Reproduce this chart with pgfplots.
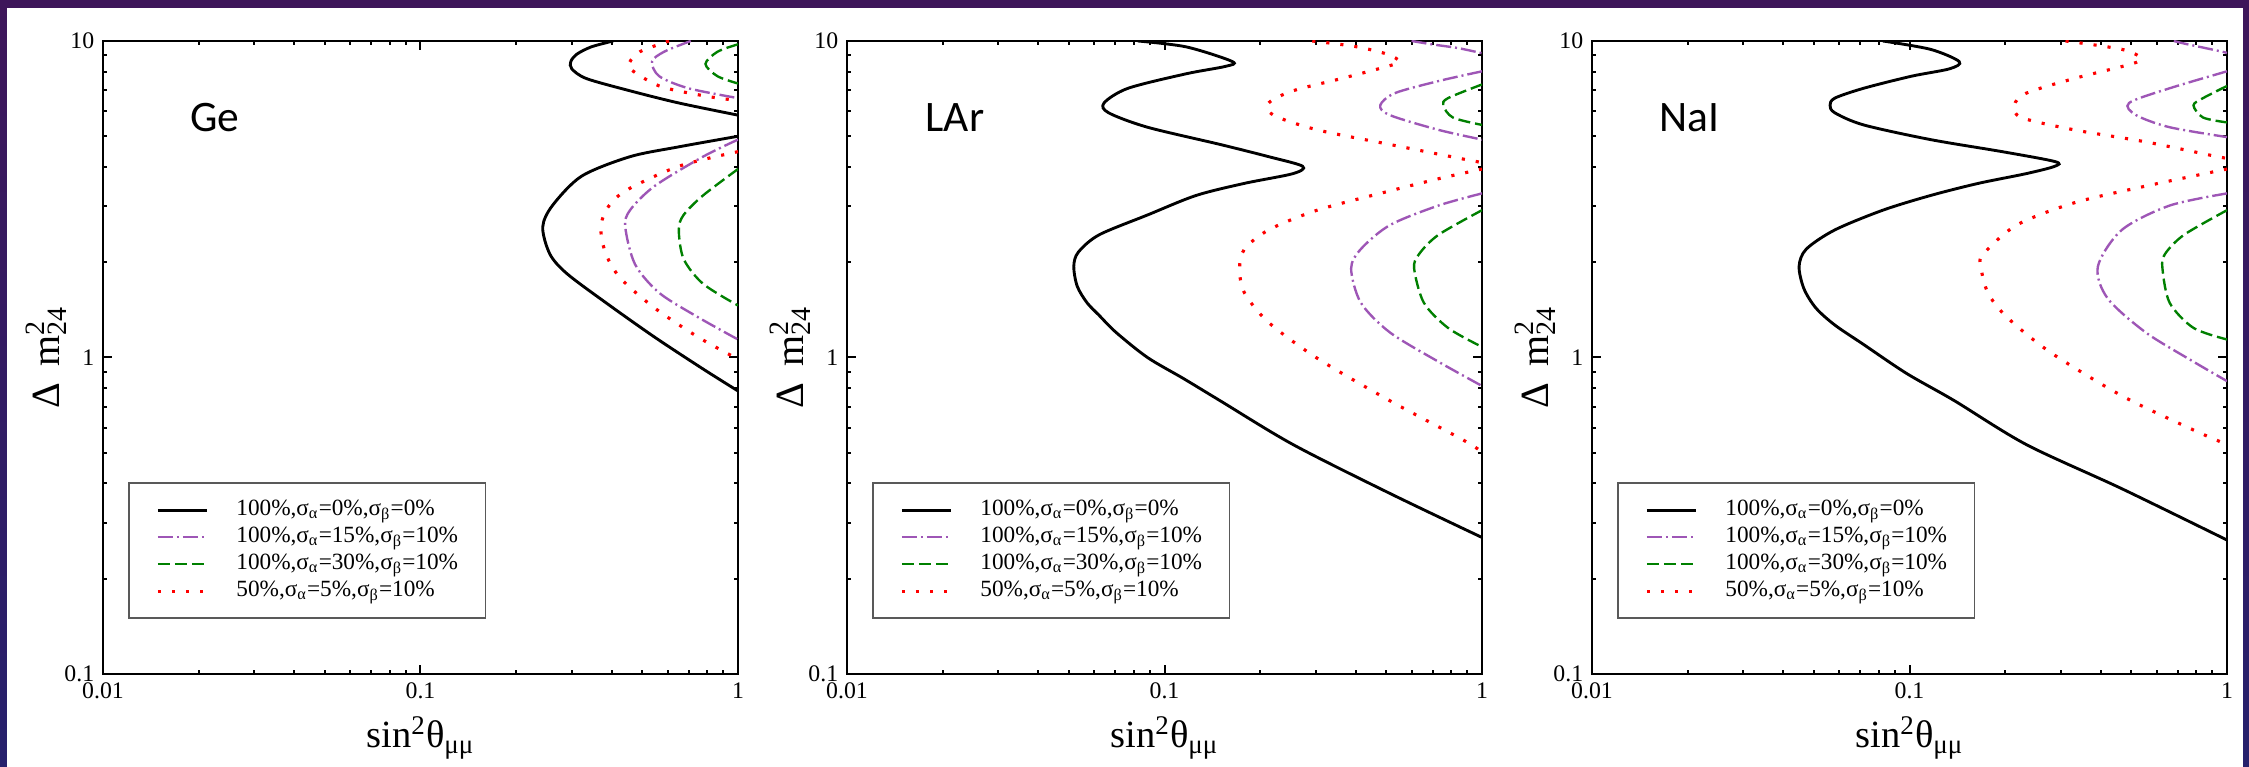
\documentclass[border=0pt]{standalone}
\usepackage{pgfplots}
\pgfplotsset{compat=1.18}
\usepackage{fontspec}
\setmainfont{Liberation Serif}
\newfontfamily\carlito{Carlito}
\definecolor{pur}{RGB}{158,86,182}
\definecolor{grn}{RGB}{0,128,0}
\definecolor{bgtop}{RGB}{62,22,90}
\definecolor{bgbot}{RGB}{38,32,108}

\tikzset{
  cblk/.style={black, line width=1.15pt, smooth, tension=0.5},
  cpur/.style={pur, line width=0.95pt, dash pattern=on 6pt off 1.6pt on 0.8pt off 1.6pt, smooth, tension=0.5},
  cgrn/.style={grn, line width=0.95pt, dash pattern=on 4.8pt off 2pt, smooth, tension=0.5},
  cred/.style={red, line width=1.25pt, dash pattern=on 1.25pt off 4.4pt, smooth, tension=0.5},
}
\pgfplotsset{
  every axis/.append style={
    xmin=0.01, xmax=1, ymin=0.1, ymax=10,
    scale only axis, width=254pt, height=253.2pt,
    axis line style={line width=1.1pt},
    xtick={0.01,0.1,1}, xticklabels={0.01,0.1,1},
    ytick={0.1,1,10}, yticklabels={0.1,1,10},
    minor xtick={0.02,0.03,0.04,0.05,0.06,0.07,0.08,0.09,0.2,0.3,0.4,0.5,0.6,0.7,0.8,0.9},
    minor ytick={0.2,0.3,0.4,0.5,0.6,0.7,0.8,0.9,2,3,4,5,6,7,8,9},
    tick style={black, line width=0.8pt},
    major tick length=3.6pt, minor tick length=1.8pt,
    tick align=inside,
    ticklabel style={font=\fontsize{9.5}{10}\selectfont},
    xlabel style={font=\fontsize{15.4}{16}\selectfont, at={(axis description cs:0.5,0)}, anchor=base, yshift=-29.6pt},
    ylabel style={font=\fontsize{16}{17}\selectfont, at={(axis description cs:-0.0898,0.5)}, anchor=center},
    legend style={at={(axis description cs:0.0394,0.0869)}, anchor=south west,
      draw=black!65, line width=0.6pt, fill=white,
      inner xsep=11pt, inner ysep=5.4pt, row sep=0pt, column sep=11.2pt,
      font=\fontsize{9.3}{10.8}\selectfont,
      nodes={inner xsep=0pt, inner ysep=0.9pt, text height=6.8pt, text depth=2.2pt},
      cells={anchor=west}},
  },
  legend image code/.code={\draw[#1] (0pt,0pt) -- (19.6pt,0pt);},
}

\newcommand\legA{100\%,σ\textsubscript{α}=0\%,σ\textsubscript{β}=0\%}
\newcommand\legB{100\%,σ\textsubscript{α}=15\%,σ\textsubscript{β}=10\%}
\newcommand\legC{100\%,σ\textsubscript{α}=30\%,σ\textsubscript{β}=10\%}
\newcommand\legD{50\%,σ\textsubscript{α}=5\%,σ\textsubscript{β}=10\%}
\newcommand\xlab{sin\textsuperscript{2}θ\textsubscript{μμ}}
\newcommand\ylab{Δ\hspace{0.4em}m\rlap{\textsuperscript{2}}\textsubscript{24}}

\begin{document}
\begin{tikzpicture}
\useasboundingbox (0pt,0pt) rectangle (899.6pt,306.8pt);
\shade[top color=bgtop, bottom color=bgbot] (0pt,0pt) rectangle (899.6pt,306.8pt);
\fill[white] (2.8pt,0pt) rectangle (897.2pt,303.4pt);

% ---------------- Ge ----------------
\begin{loglogaxis}[anchor=north west, at={(41.2pt,290.4pt)}, xlabel={\xlab}, ylabel={\ylab}]
\addplot[cblk] coordinates {(0.4045,10) (0.345,9.58) (0.3105,9.08) (0.2975,8.61) (0.2995,8.17) (0.333,7.61) (0.457,6.96) (0.651,6.37) (1,5.83)};
\addlegendentry{\legA}
\addplot[cpur] coordinates {(0.710,10) (0.5855,9.25) (0.536,8.61) (0.565,7.74) (0.698,7.09) (1,6.60)};
\addlegendentry{\legB}
\addplot[cgrn] coordinates {(1,9.76) (0.862,9.25) (0.790,8.46) (0.862,7.74) (1,7.34)};
\addlegendentry{\legC}
\addplot[cred] coordinates {(0.606,10) (0.491,9.25) (0.457,8.61) (0.457,8.17) (0.565,7.21) (0.776,6.72) (1,6.48)};
\addlegendentry{\legD}
\addplot[cblk, forget plot] coordinates {(1,5.00) (0.651,4.63) (0.457,4.31) (0.3216,3.74) (0.2603,3.02) (0.2426,2.58) (0.2557,2.12) (0.2893,1.84) (0.3836,1.49) (0.546,1.16) (0.776,0.92) (1,0.784)};
\addplot[cpur, forget plot] coordinates {(1,4.88) (0.776,4.31) (0.546,3.48) (0.457,2.92) (0.4416,2.58) (0.474,1.97) (0.565,1.60) (0.749,1.34) (1,1.14)};
\addplot[cgrn, forget plot] coordinates {(1,3.94) (0.776,3.25) (0.674,2.82) (0.651,2.53) (0.674,2.05) (0.776,1.71) (1,1.46)};
\addplot[cred, forget plot] coordinates {(1,4.47) (0.651,4.02) (0.4416,3.36) (0.384,2.92) (0.370,2.53) (0.384,2.12) (0.4266,1.78) (0.546,1.434) (0.749,1.16) (1,0.988)};
\end{loglogaxis}

% ---------------- LAr ----------------
\begin{loglogaxis}[anchor=north west, at={(338.8pt,290.4pt)}, xlabel={\xlab}, ylabel={\ylab}]
\addplot[cblk] coordinates {(0.0824,10) (0.1171,9.58) (0.1636,8.61) (0.1552,8.31) (0.1171,7.88) (0.0768,7.09) (0.0645,6.37) (0.0667,5.93) (0.0884,5.34) (0.1498,4.71) (0.2129,4.31) (0.2723,4.02) (0.2538,3.81) (0.1786,3.55) (0.1257,3.25) (0.0884,2.82) (0.0622,2.44) (0.0535,2.15) (0.0518,1.94) (0.0531,1.68) (0.0570,1.49) (0.0622,1.36) (0.0704,1.20) (0.0884,1.00) (0.115,0.857) (0.1498,0.730) (0.2538,0.531) (0.5128,0.372) (1,0.270)};
\addlegendentry{\legA}
\addplot[cpur] coordinates {(0.60,10) (0.70,9.75) (0.8389,9.5) (1,9.15)};
\addlegendentry{\legB}
\addplot[cgrn] coordinates {(1,7.29) (0.7819,6.60) (0.7549,6.26) (0.8099,5.73) (1,5.43)};
\addlegendentry{\legC}
\addplot[cred] coordinates {(0.292,10) (0.40,9.6) (0.50,9.1) (0.5503,8.61) (0.50,8.3) (0.3608,7.61) (0.2538,6.96) (0.2129,6.37) (0.2205,5.83) (0.3026,5.24) (0.5128,4.71) (0.8688,4.24) (1,4.13)};
\addlegendentry{\legD}
\addplot[cpur, forget plot] coordinates {(1,8.02) (0.7288,7.47) (0.531,6.84) (0.478,6.26) (0.5128,5.83) (0.7288,5.24) (1,4.88)};
\addplot[cpur, forget plot] coordinates {(1,3.30) (0.7288,3.02) (0.5128,2.62) (0.4153,2.20) (0.3871,1.91) (0.4153,1.49) (0.5128,1.20) (0.7288,0.970) (1,0.813)};
\addplot[cgrn, forget plot] coordinates {(1,2.92) (0.7288,2.44) (0.6332,2.12) (0.6114,1.91) (0.6559,1.49) (0.7819,1.24) (1,1.08)};
\addplot[cred, forget plot] coordinates {(1,3.94) (0.7288,3.67) (0.5128,3.36) (0.3026,2.92) (0.2129,2.53) (0.1786,2.20) (0.1724,1.91) (0.1786,1.60) (0.2129,1.29) (0.3026,0.995) (0.5128,0.730) (0.8688,0.550) (1,0.503)};
\end{loglogaxis}

% ---------------- NaI ----------------
\begin{loglogaxis}[anchor=north west, at={(636.8pt,290.4pt)}, xlabel={\xlab}, ylabel={\ylab}]
\addplot[cblk] coordinates {(0.0824,10) (0.1165,9.41) (0.1434,8.61) (0.1338,8.17) (0.1014,7.74) (0.0717,7.09) (0.0582,6.60) (0.0562,6.26) (0.0582,5.93) (0.0717,5.43) (0.1165,4.88) (0.1960,4.47) (0.2870,4.16) (0.2870,4.02) (0.2331,3.81) (0.1648,3.55) (0.1165,3.25) (0.0824,2.92) (0.0582,2.53) (0.0473,2.20) (0.0449,1.94) (0.0465,1.65) (0.0507,1.434) (0.0582,1.266) (0.0717,1.099) (0.0980,0.89) (0.1386,0.730) (0.2331,0.531) (0.4664,0.385) (1,0.265)};
\addlegendentry{\legA}
\addplot[cpur] coordinates {(0.68,10) (0.7318,9.82) (0.966,9.25) (1,9.15)};
\addlegendentry{\legB}
\addplot[cgrn] coordinates {(1,7.21) (0.8407,6.60) (0.7843,6.26) (0.8407,5.73) (1,5.53)};
\addlegendentry{\legC}
\addplot[cred] coordinates {(0.31,10) (0.4664,9.41) (0.5358,8.83) (0.4999,8.46) (0.3297,7.61) (0.2331,6.84) (0.2137,6.26) (0.2251,5.73) (0.3297,5.24) (0.5546,4.80) (0.933,4.31) (1,4.27)};
\addlegendentry{\legD}
\addplot[cpur, forget plot] coordinates {(1,8.02) (0.6596,7.09) (0.4913,6.37) (0.5175,5.83) (0.6596,5.34) (1,4.97)};
\addplot[cpur, forget plot] coordinates {(1,3.30) (0.6596,3.02) (0.4664,2.53) (0.3921,1.94) (0.4202,1.54) (0.5546,1.20) (0.7843,0.970) (1,0.842)};
\addplot[cgrn, forget plot] coordinates {(1,2.92) (0.7318,2.44) (0.6372,2.12) (0.6262,1.91) (0.6596,1.49) (0.7843,1.24) (1,1.14)};
\addplot[cred, forget plot] coordinates {(1,3.94) (0.5546,3.48) (0.3297,3.08) (0.2175,2.62) (0.1706,2.12) (0.1677,1.94) (0.1766,1.60) (0.2029,1.34) (0.2772,1.04) (0.4664,0.757) (0.7843,0.590) (1,0.531)};
\end{loglogaxis}

\node[font=\carlito\fontsize{17.4}{20}\selectfont] at (86pt,259.6pt) {Ge};
\node[font=\carlito\fontsize{17.4}{20}\selectfont] at (382pt,259.6pt) {LAr};
\node[font=\carlito\fontsize{17.4}{20}\selectfont] at (675.6pt,259.6pt) {NaI};
\end{tikzpicture}
\end{document}
